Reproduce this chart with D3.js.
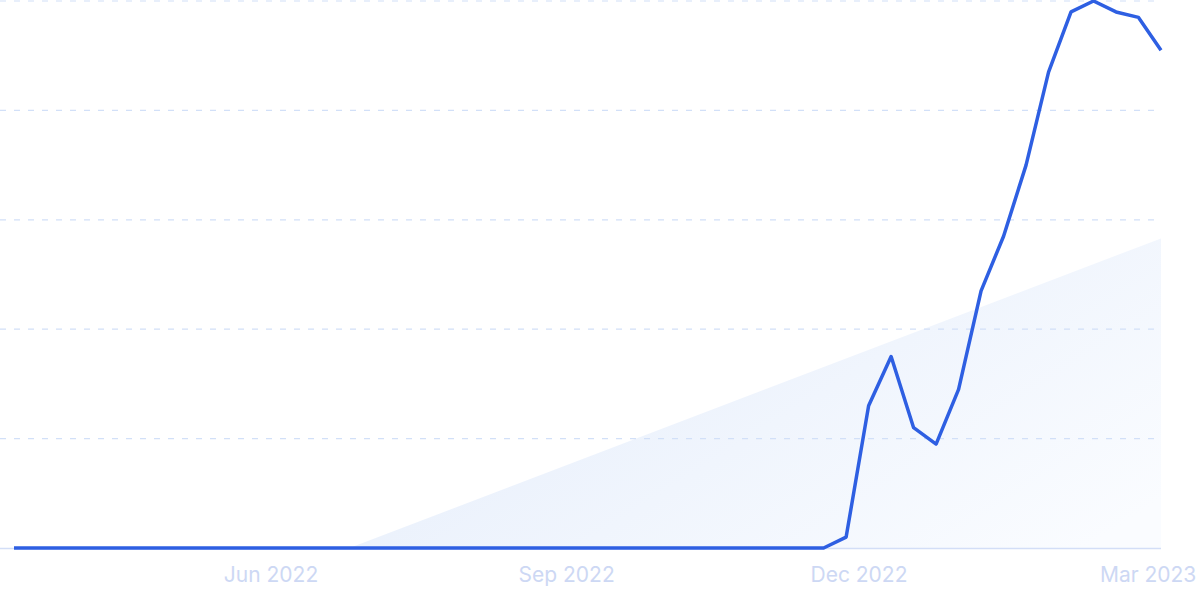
<!DOCTYPE html>
<html>
<head>
<meta charset="utf-8">
<script src="https://cdn.jsdelivr.net/npm/d3@7"></script>
<style>
  html, body { margin: 0; padding: 0; background: #fff; }
  svg { display: block; }
</style>
</head>
<body>
<svg id="chart" width="1200" height="600"></svg>
<script>
// weekly interest, one point per week starting 13 Mar 2022
var startWeek = new Date(2022, 2, 13)
var values = [
  0, 0, 0, 0, 0, 0, 0, 0, 0, 0,
  0, 0, 0, 0, 0, 0, 0, 0, 0, 0,
  0, 0, 0, 0, 0, 0, 0, 0, 0, 0,
  0, 0, 0, 0, 0, 0, 0, 2, 26, 35,
  22, 19, 29, 47, 57, 70, 87, 98, 100, 98,
  97, 91
]
// trend line value at the first and the last week
var trendValues = [-23.4, 56.6]
var yTicks = [0, 20, 40, 60, 80, 100]
var tickDates = [new Date(2022, 5, 1), new Date(2022, 8, 1), new Date(2022, 11, 1), new Date(2023, 2, 1)]

var weeks = values.map((v, i) => d3.timeWeek.offset(startWeek, i))
var data = weeks.map((d, i) => ({ date: d, value: values[i] }))
var trend = [
  { date: weeks[0], value: trendValues[0] },
  { date: weeks[weeks.length - 1], value: trendValues[1] }
]

var svg = d3.select('#chart')
var plotLeft = 14, plotRight = 1161, plotTop = 1, plotBottom = 548

var x = d3.scaleTime()
  .domain([weeks[0], weeks[weeks.length - 1]])
  .range([plotLeft, plotRight])
var y = d3.scaleLinear()
  .domain([0, 100])
  .range([plotBottom, plotTop])

var defs = svg.append('defs')
var grad = defs.append('linearGradient')
  .attr('id', 'trendFill')
  .attr('x1', '0%').attr('y1', '0%')
  .attr('x2', '100%').attr('y2', '60%')
grad.append('stop').attr('offset', '35%').attr('stop-color', '#e6eefb')
grad.append('stop').attr('offset', '100%').attr('stop-color', '#fafcff')

defs.append('clipPath').attr('id', 'plotClip')
  .append('rect')
  .attr('x', 0).attr('y', 0)
  .attr('width', plotRight).attr('height', plotBottom)

// trend area
svg.append('path')
  .datum(trend)
  .attr('clip-path', 'url(#plotClip)')
  .attr('fill', 'url(#trendFill)')
  .attr('d', d3.area()
    .x(d => x(d.date))
    .y0(y(0))
    .y1(d => y(d.value)))

// dashed grid
svg.append('g')
  .selectAll('line')
  .data(yTicks.filter(d => d > 0))
  .enter()
  .append('line')
  .attr('x1', 0)
  .attr('x2', plotRight)
  .attr('y1', d => Math.max(0.5, y(d)))
  .attr('y2', d => Math.max(0.5, y(d)))
  .attr('stroke', '#d2e0f8')
  .attr('stroke-width', 1.2)
  .attr('stroke-dasharray', '6,8')

// baseline
svg.append('line')
  .attr('x1', 0).attr('x2', plotRight)
  .attr('y1', y(0) + 0.5).attr('y2', y(0) + 0.5)
  .attr('stroke', '#d3def7')
  .attr('stroke-width', 1.5)

// x labels
svg.append('g')
  .selectAll('text')
  .data(tickDates)
  .enter()
  .append('text')
  .attr('x', d => x(d))
  .attr('y', 582)
  .attr('text-anchor', 'middle')
  .attr('font-family', 'Inter, "Noto Sans", sans-serif')
  .attr('font-size', 21)
  .attr('fill', '#cdd8f4')
  .text(d3.timeFormat('%b %Y'))

// main line
svg.append('path')
  .datum(data)
  .attr('fill', 'none')
  .attr('stroke', '#2e5fe2')
  .attr('stroke-width', 3.5)
  .attr('stroke-linejoin', 'round')
  .attr('d', d3.line()
    .x(d => x(d.date))
    .y(d => y(d.value)))
</script>
</body>
</html>
